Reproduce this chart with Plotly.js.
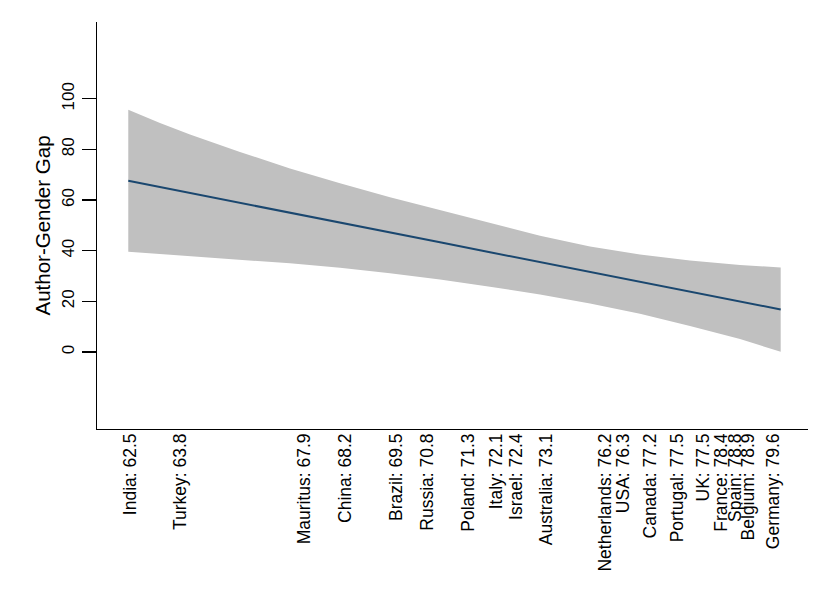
<!DOCTYPE html>
<html>
<head>
<meta charset="utf-8">
<script src="https://cdn.plot.ly/plotly-3.0.1.min.js"></script>
<style>html,body{margin:0;padding:0;background:#fff;}#chart{width:830px;height:604px;}</style>
</head>
<body>
<div id="chart"></div>
<script>
// Country tick positions on the x index scale (0-100) and their labels
const countries = ["India","Turkey","Mauritus","China","Brazil","Russia","Poland","Italy","Israel","Australia","Netherlands","USA","Canada","Portugal","UK","France","Spain","Belgium","Germany"];
const lifeExp = ["62.5","63.8","67.9","68.2","69.5","70.8","71.3","72.1","72.4","73.1","76.2","76.3","77.2","77.5","77.5","78.4","78.8","78.9","79.6"];
const tickPos = [4.74,11.77,29.11,34.88,42.15,46.45,52.22,56.21,59.03,63.25,71.45,74.02,77.78,81.62,85.27,87.86,89.73,91.60,95.12];

// Fitted line and confidence band
const fitX    = [4.40, 8.86,13.08,20.11,27.14,34.18,41.21,48.24,55.27,62.31,69.34,76.37,83.40,90.44,96.16];
const fitY    = [67.6, 65.1, 62.8, 58.9, 55.0, 51.1, 47.2, 43.3, 39.4, 35.5, 31.7, 27.8, 23.9, 20.0, 16.8];
const ciUpper = [95.7, 90.4, 85.9, 79.0, 72.5, 66.6, 61.1, 56.0, 50.8, 45.9, 41.7, 38.5, 36.1, 34.4, 33.4];
const ciLower = [39.6, 38.7, 37.9, 36.5, 35.0, 33.3, 31.1, 28.6, 25.8, 22.7, 19.2, 15.1, 10.3,  5.1,  0.1];

const tickText = countries.map((c,i)=>c+": "+lifeExp[i]);
const FONT = "Liberation Sans, Arial, Helvetica, sans-serif";

const traces = [
  {x: fitX, y: ciLower, mode:"lines", line:{width:0, color:"#c0c0c0"}, hoverinfo:"skip", showlegend:false},
  {x: fitX, y: ciUpper, mode:"lines", fill:"tonexty", fillcolor:"#c0c0c0", line:{width:0, color:"#c0c0c0"}, hoverinfo:"skip", showlegend:false},
  {x: fitX, y: fitY, mode:"lines", line:{color:"#1a476f", width:2}, showlegend:false}
];

const layout = {
  width:830, height:604,
  margin:{l:97, r:22, t:22, b:175},
  paper_bgcolor:"#ffffff", plot_bgcolor:"#ffffff",
  font:{family:FONT, color:"#000000", size:17},
  showlegend:false,
  xaxis:{
    range:[0,100], showgrid:false, zeroline:false,
    showline:true, linecolor:"#000000", linewidth:1.4,
    tickmode:"array", tickvals:tickPos, ticktext:tickText,
    tickangle:-90, ticks:"", ticklabelstandoff:-4,
    tickfont:{size:17.5, family:FONT, color:"#000"}
  },
  yaxis:{
    range:[-30.4,130.3], showgrid:false, zeroline:false,
    showline:true, linecolor:"#000000", linewidth:1.4,
    tickmode:"array", tickvals:[0,20,40,60,80,100],
    ticks:"outside", ticklen:14, tickwidth:1.4, tickcolor:"#000",
    ticklabelstandoff:1,
    tickangle:-90, tickfont:{size:17, family:FONT, color:"#000"},
    title:{text:"Author-Gender Gap", font:{size:20.5, family:FONT, color:"#000"}, standoff:2}
  }
};
Plotly.newPlot("chart", traces, layout, {displayModeBar:false, staticPlot:true});
</script>
</body>
</html>
